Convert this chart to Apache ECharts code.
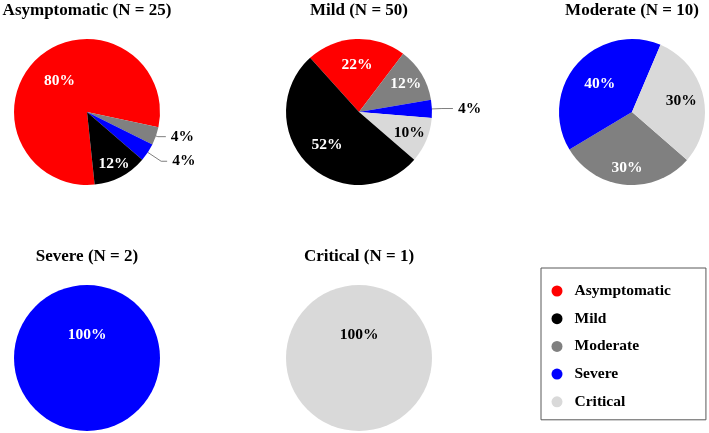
<!DOCTYPE html>
<html><head><meta charset="utf-8">
<script src="https://cdn.jsdelivr.net/npm/echarts@6.0.0/dist/echarts.min.js"></script>
<style>html,body{margin:0;padding:0;background:#fff}#c{width:709px;height:433px}</style>
</head><body><div id="c"></div>
<script>
// ---- data ----
const categories = ['Asymptomatic', 'Mild', 'Moderate', 'Severe', 'Critical'];
const groupTitles = ['Asymptomatic (N = 25)', 'Mild (N = 50)', 'Moderate (N = 10)', 'Severe (N = 2)', 'Critical (N = 1)'];
// patient counts per group, in category order
const asymptomaticCounts = [20, 3, 1, 1, 0];
const mildCounts = [11, 26, 6, 2, 5];
const moderateCounts = [0, 0, 3, 4, 3];
const severeCounts = [0, 0, 0, 2, 0];
const criticalCounts = [0, 0, 0, 0, 1];

// ---- style ----
const colors = ['#FF0000', '#000000', '#808080', '#0000FF', '#D9D9D9'];
const FONT = '"Liberation Serif", "Times New Roman", serif';
const R = 73;
const sliceOrder = [0, 2, 3, 4, 1]; // clockwise drawing order of categories
const pies = [
  {title: groupTitles[0], counts: asymptomaticCounts, center: [87, 112], start: 276, titleTop: 2,
   labels: {0: {f: 0.52}, 1: {f: 0.74}, 2: {out: [2, 8]}, 3: {out: [16, 6]}}},
  {title: groupTitles[1], counts: mildCounts, center: [359, 112], start: 132, titleTop: 2,
   labels: {0: {f: 0.6}, 1: {f: 0.58}, 2: {f: 0.69}, 3: {out: [10, 11]}, 4: {f: 0.69}}},
  {title: groupTitles[2], counts: moderateCounts, center: [632, 112], start: 319, titleTop: 2,
   labels: {2: {f: 0.71}, 3: {f: 0.54}, 4: {f: 0.64}}},
  {title: groupTitles[3], counts: severeCounts, center: [87, 358], start: 270, titleTop: 248,
   labels: {3: {f: 0.29}}},
  {title: groupTitles[4], counts: criticalCounts, center: [359, 358], start: 270, titleTop: 248,
   labels: {4: {f: 0.29}}}
];

const series = pies.map(p => {
  const idx = [];
  const data = [];
  sliceOrder.forEach(ci => {
    const v = p.counts[ci];
    if (!v) return;
    const lc = p.labels[ci] || {f: 0.5};
    idx.push(ci);
    const item = {name: categories[ci], value: v, itemStyle: {color: colors[ci]}};
    if (lc.out) {
      item.label = {position: 'outside', color: '#000'};
      item.labelLine = {show: true, length: lc.out[0], length2: lc.out[1], lineStyle: {color: '#7f7f7f', width: 1}};
    } else {
      item.label = {position: 'inside', color: ci === 4 ? '#000' : '#fff'};
      item.labelLine = {show: false};
    }
    data.push(item);
  });
  return {
    type: 'pie', center: p.center, radius: R, startAngle: p.start, clockwise: true,
    avoidLabelOverlap: false, silent: true, animation: false,
    itemStyle: {borderWidth: 0},
    label: {show: true, formatter: prm => Math.round(prm.percent) + '%',
            fontFamily: FONT, fontWeight: 'bold', fontSize: 15.5},
    labelLayout: function (prm) {
      const ci = idx[prm.dataIndex];
      const lc = p.labels[ci] || {f: 0.5};
      if (lc.out) return {};
      const r = prm.labelRect;
      const cx = r.x + r.width / 2, cy = r.y + r.height / 2;
      const ox = cx - p.center[0], oy = cy - p.center[1];
      if (Math.hypot(ox, oy) < 2) return {dy: -lc.f * R};
      const k = lc.f / 0.5 - 1;
      return {dx: ox * k, dy: oy * k};
    },
    data
  };
});

const chart = echarts.init(document.getElementById('c'), null, {renderer: 'canvas'});
chart.setOption({
  backgroundColor: '#fff',
  animation: false,
  graphic: pies.map(p => ({
    type: 'text', x: p.center[0], y: p.titleTop, silent: true,
    style: {text: p.title, align: 'center', verticalAlign: 'top', fill: '#000',
            fontFamily: FONT, fontWeight: 'bold', fontSize: 17}
  })),
  legend: {
    orient: 'vertical', left: 541, top: 268, icon: 'circle',
    itemWidth: 25, itemHeight: 11, itemGap: 11.7,
    padding: [15, 35, 10, 10.5], borderColor: '#595959', borderWidth: 1,
    selectedMode: false,
    textStyle: {fontFamily: FONT, fontWeight: 'bold', fontSize: 15.5, color: '#000', lineHeight: 16},
    data: categories
  },
  series
});
</script></body></html>
